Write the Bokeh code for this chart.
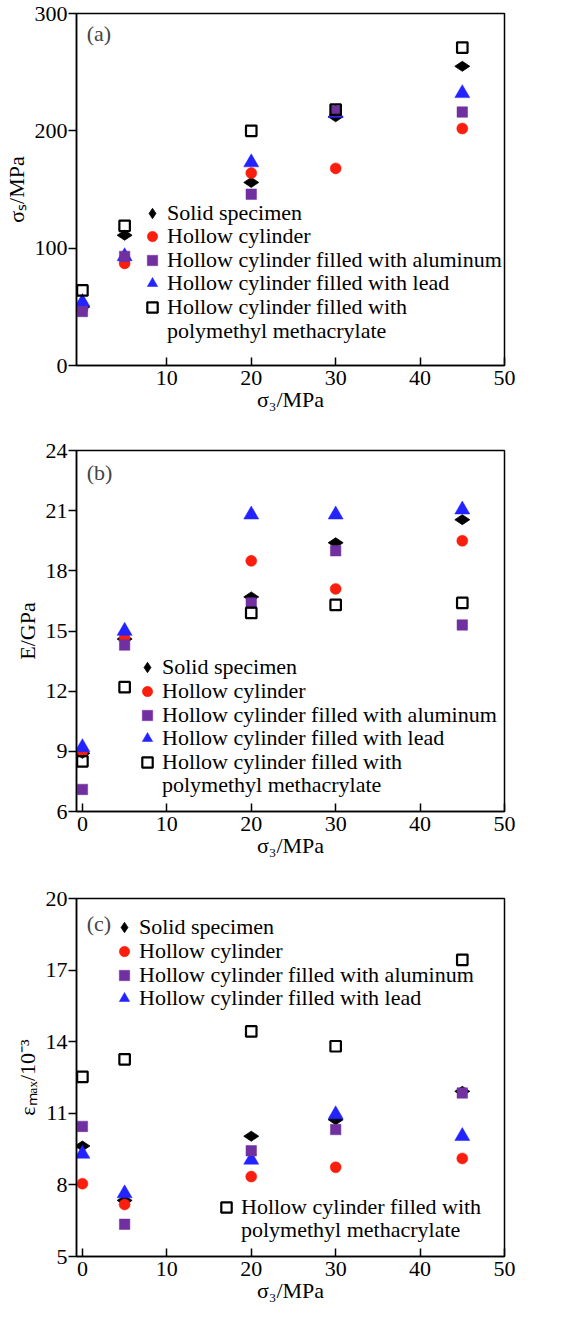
import numpy as np
from bokeh.plotting import figure
from bokeh.layouts import column
from bokeh.models import Legend, LegendItem, Label, FixedTicker, Range1d
from bokeh.embed import file_html
from bokeh.resources import INLINE

# ---------------- data ----------------
confining = [0, 5, 20, 30, 45]  # sigma_3 / MPa

names = ["Solid specimen",
         "Hollow cylinder",
         "Hollow cylinder filled with aluminum",
         "Hollow cylinder filled with lead",
         "Hollow cylinder filled with"]
pmma_line2 = "polymethyl methacrylate"

# (a) peak strength sigma_s / MPa
strength_solid = [50, 111, 156, 212, 255]
strength_hollow = [48, 87, 164, 168, 202]
strength_al = [46, 93, 146, 217, 216]
strength_lead = [54, 93, 173, 215, 232]
strength_pmma = [64, 119, 200, 218, 271]

# (b) elastic modulus E / GPa
modulus_solid = [8.9, 14.6, 16.7, 19.4, 20.55]
modulus_hollow = [9.0, 14.65, 18.5, 17.1, 19.5]
modulus_al = [7.1, 14.3, 16.4, 19.0, 15.3]
modulus_lead = [9.2, 15.0, 20.8, 20.8, 21.05]
modulus_pmma = [8.5, 12.2, 15.9, 16.3, 16.4]

# (c) peak strain eps_max / 10^-3
strain_solid = [9.63, 7.35, 10.04, 10.73, 11.92]
strain_hollow = [8.05, 7.18, 8.35, 8.74, 9.11]
strain_al = [10.45, 6.35, 9.43, 10.32, 11.85]
strain_lead = [9.30, 7.64, 9.05, 10.95, 10.04]
strain_pmma = [12.53, 13.26, 14.43, 13.81, 17.43]

x_ticks_a = [10, 20, 30, 40, 50]
x_ticks_bc = [0, 10, 20, 30, 40, 50]
y_ticks_a = [0, 100, 200, 300]
y_ticks_b = [6, 9, 12, 15, 18, 21, 24]
y_ticks_c = [5, 8, 11, 14, 17, 20]

FONT = "Liberation Serif"
FS = "22px"
RED = "#fa1e0e"
BLUE = "#2323ff"
PURPLE = "#7030a0"

# styles indexed like `names`
styles = [
    dict(marker="diamond", angle=np.pi / 2, size=15, fill_color="black", line_color="black", line_width=0.8),
    dict(marker="circle", size=11, fill_color=RED, line_color=RED, line_width=0.5),
    dict(marker="square", size=10.5, fill_color=PURPLE, line_color=PURPLE, line_width=0.5),
    dict(marker="triangle", size=15, fill_color=BLUE, line_color=BLUE, line_width=0.5),
    dict(marker="square", size=10.5, fill_color=None, line_color="black", line_width=2.2),
]
draw_order = [0, 1, 3, 2, 4]

GLYPH = 26  # legend glyph box (px); legend markers are drawn at 0.4 of it


def make_fig(fh, top, bottom, yr, yticks, xticks, ylabel):
    p = figure(frame_width=428, frame_height=fh, x_range=Range1d(-0.7, 50), y_range=Range1d(*yr),
               output_backend="svg", toolbar_location=None,
               min_border_left=72, min_border_right=20,
               min_border_top=top, min_border_bottom=bottom)
    p.grid.visible = False
    p.outline_line_color = "black"
    p.outline_line_width = 1.5
    p.outline_line_alpha = 1
    xa = p.xaxis[0]
    xa.ticker = FixedTicker(ticks=xticks)
    xa.major_tick_in = 8
    xa.major_tick_out = 0
    xa.minor_tick_line_color = None
    xa.axis_line_width = 1.5
    xa.major_tick_line_width = 1.5
    xa.major_label_text_font = FONT
    xa.major_label_text_font_size = FS
    xa.major_label_text_color = "black"
    xa.major_label_standoff = 5
    xa.axis_label = "σ₃/MPa"
    xa.axis_label_text_font = FONT
    xa.axis_label_text_font_size = FS
    xa.axis_label_text_font_style = "normal"
    xa.axis_label_text_color = "black"
    xa.axis_label_standoff = -1
    ya = p.yaxis[0]
    ya.ticker = FixedTicker(ticks=yticks)
    ya.major_tick_in = 0
    ya.major_tick_out = 8
    ya.minor_tick_line_color = None
    ya.axis_line_width = 1.5
    ya.major_tick_line_width = 1.5
    ya.major_label_text_font = FONT
    ya.major_label_text_font_size = FS
    ya.major_label_text_color = "black"
    ya.major_label_standoff = 1
    ya.axis_label = ylabel
    ya.axis_label_text_font = FONT
    ya.axis_label_text_font_size = FS
    ya.axis_label_text_font_style = "normal"
    ya.axis_label_text_color = "black"
    ya.axis_label_standoff = 3
    return p


def add_series(p, ys):
    rends = [None] * 5
    for k in draw_order:
        rends[k] = p.scatter(confining, ys[k], **styles[k])
    # legend-only helper (no data): blank glyph for the wrapped second label line
    blank = p.scatter([], [], marker="square", fill_alpha=0, line_alpha=0)
    return rends, blank


def add_legend_rows(p, rends, blank, idx, vx, vys):
    """One single-row legend per line so that the row pitch matches the original."""
    rows = []
    for i in idx:
        rows.append((names[i], rends[i]))
        if i == 4:
            rows.append((pmma_line2, blank))
    for (lab, r), vy in zip(rows, vys):
        lg = Legend(items=[LegendItem(label=lab, renderers=[r])], location=(vx, vy),
                    padding=0, margin=0, spacing=0,
                    border_line_color=None, background_fill_alpha=0,
                    glyph_width=GLYPH, glyph_height=GLYPH, label_height=20,
                    label_standoff=2, label_text_font=FONT, label_text_font_size=FS,
                    label_text_color="black")
        p.add_layout(lg, "center")


# ---------------- panel (a) ----------------
pa = make_fig(352, 13, 73, (0, 300), y_ticks_a, x_ticks_a, "σₛ/MPa")
ra, ba = add_series(pa, [strength_solid, strength_hollow, strength_al, strength_lead, strength_pmma])
add_legend_rows(pa, ra, ba, range(5), 63, [139, 116, 92, 69, 45, 21])
pa.add_layout(Label(x=0.5, y=283, text="(a)", text_font=FONT, text_font_size=FS,
                    text_baseline="middle", text_align="left"))

# ---------------- panel (b) ----------------
pb = make_fig(361, 12, 75, (6, 24), y_ticks_b, x_ticks_bc, "E/GPa")
rb, bb = add_series(pb, [modulus_solid, modulus_hollow, modulus_al, modulus_lead, modulus_pmma])
add_legend_rows(pb, rb, bb, range(5), 58, [131, 107, 83, 60, 36, 13])
pb.add_layout(Label(x=0.5, y=22.9, text="(b)", text_font=FONT, text_font_size=FS,
                    text_baseline="middle", text_align="left"))

# ---------------- panel (c) ----------------
pc = make_fig(358, 12, 52, (5, 20), y_ticks_c, x_ticks_bc, "εₘₐₓ/10⁻³")
rc, bc = add_series(pc, [strain_solid, strain_hollow, strain_al, strain_lead, strain_pmma])
add_legend_rows(pc, rc, bc, range(4), 35, [316, 292, 268, 245])
add_legend_rows(pc, rc, bc, [4], 137, [36, 13])
pc.add_layout(Label(x=0.5, y=18.97, text="(c)", text_font=FONT, text_font_size=FS,
                    text_baseline="middle", text_align="left"))

layout = column(pa, pb, pc, spacing=0)
open("out.html", "w").write(file_html(layout, INLINE))
